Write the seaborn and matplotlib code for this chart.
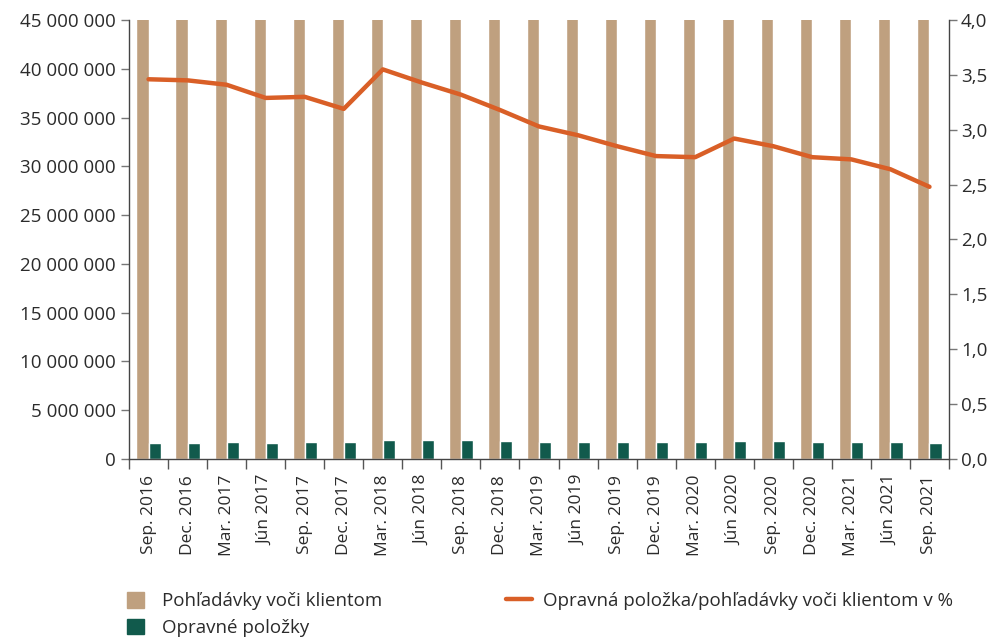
import matplotlib
matplotlib.use("Agg")
import matplotlib.pyplot as plt
import matplotlib.ticker as mticker
from matplotlib.patches import Patch
from matplotlib.lines import Line2D
import seaborn as sns
import pandas as pd
import numpy as np

quarters = ["Sep. 2016", "Dec. 2016", "Mar. 2017", "Jún 2017", "Sep. 2017", "Dec. 2017",
            "Mar. 2018", "Jún 2018", "Sep. 2018", "Dec. 2018", "Mar. 2019", "Jún 2019",
            "Sep. 2019", "Dec. 2019", "Mar. 2020", "Jún 2020", "Sep. 2020", "Dec. 2020",
            "Mar. 2021", "Jún 2021", "Sep. 2021"]
# Pohľadávky voči klientom (clipped above 45 mil. in the chart; estimated)
receivables = [47.4e6, 47.5e6, 50.1e6, 50.8e6, 52.7e6, 53.6e6, 54.9e6, 56.9e6, 57.5e6,
               58.2e6, 58.7e6, 60.3e6, 61.0e6, 62.0e6, 63.3e6, 64.4e6, 64.9e6, 64.7e6,
               65.2e6, 65.9e6, 67.3e6]
# Opravné položky
provisions = [1.64e6, 1.64e6, 1.71e6, 1.67e6, 1.74e6, 1.71e6, 1.95e6, 1.95e6, 1.91e6,
              1.85e6, 1.78e6, 1.78e6, 1.74e6, 1.71e6, 1.74e6, 1.88e6, 1.85e6, 1.78e6,
              1.78e6, 1.74e6, 1.67e6]
# Opravná položka / pohľadávky v %
ratio = [3.46, 3.45, 3.41, 3.29, 3.30, 3.19, 3.55, 3.43, 3.32, 3.18, 3.03, 2.95,
         2.85, 2.76, 2.75, 2.92, 2.85, 2.75, 2.73, 2.64, 2.48]

lab_rec = "Pohľadávky voči klientom"
lab_prov = "Opravné položky"
lab_ratio = "Opravná položka/pohľadávky voči klientom v %"

TAN = "#BFA07F"
GREEN = "#115A4C"
ORANGE = "#D95F27"
TXT = "#2b2b2b"
FS_Y = 13.5
FS_X = 12.5
FS_LEG = 13.5

sns.set_theme(style="white")
plt.rcParams["font.family"] = ["Open Sans", "DejaVu Sans"]

df = pd.DataFrame({
    "q": quarters * 2,
    "v": receivables + provisions,
    "s": [lab_rec] * len(quarters) + [lab_prov] * len(quarters),
})

fig = plt.figure(figsize=(9.96, 6.37), dpi=100)
ax = fig.add_axes([129 / 996, 1 - 459 / 637, (949 - 129) / 996, (459 - 20) / 637])
sns.barplot(data=df, x="q", y="v", hue="s", palette=[TAN, GREEN], width=0.62,
            ax=ax, legend=False, saturation=1)
ax.set_ylim(0, 45e6)
ax.set_xlim(-0.5, len(quarters) - 0.5)
ax.set_xlabel("")
ax.set_ylabel("")
ax.yaxis.set_major_locator(mticker.MultipleLocator(5e6))
ax.yaxis.set_major_formatter(mticker.FuncFormatter(lambda v, p: f"{int(v):,}".replace(",", " ")))

ax2 = ax.twinx()
sns.lineplot(x=np.arange(len(quarters)), y=ratio, ax=ax2, color=ORANGE, lw=3.2)
ax2.set_ylim(0, 4.0)
ax2.set_xlim(-0.5, len(quarters) - 0.5)
ax2.yaxis.set_major_locator(mticker.MultipleLocator(0.5))
ax2.yaxis.set_major_formatter(mticker.FuncFormatter(lambda v, p: f"{v:.1f}".replace(".", ",")))

for a in (ax, ax2):
    a.spines["top"].set_visible(False)
    for s in ("left", "right", "bottom"):
        a.spines[s].set_color("#444444")
        a.spines[s].set_linewidth(1.0)
ax.spines["right"].set_visible(False)
ax2.spines["left"].set_visible(False)
ax2.spines["bottom"].set_visible(False)

ax.tick_params(axis="y", which="major", direction="out", length=5.5, width=1,
               color="#777777", labelsize=FS_Y, labelcolor=TXT, pad=4, left=True)
ax2.tick_params(axis="y", which="major", direction="out", length=5.5, width=1,
                color="#777777", labelsize=FS_Y, labelcolor=TXT, pad=3, right=True)

ax.set_xticks(np.arange(len(quarters)))
ax.set_xticklabels(quarters, rotation=90, fontsize=FS_X, color=TXT)
ax.tick_params(axis="x", which="major", length=0, pad=11.5)
ax.set_xticks(np.arange(len(quarters) + 1) - 0.5, minor=True)
ax.tick_params(axis="x", which="minor", direction="out", length=7.5, width=1,
               color="#555555", bottom=True)
ax2.tick_params(axis="x", which="both", length=0)

h1 = [Patch(color=TAN, label=lab_rec), Patch(color=GREEN, label=lab_prov)]
h2 = [Line2D([0], [0], color=ORANGE, lw=3.2, label=lab_ratio)]
leg_kw = dict(frameon=False, fontsize=FS_LEG, handlelength=0.92, handleheight=0.9,
              handletextpad=0.95, labelspacing=0.45, borderaxespad=0, borderpad=0)
fig.legend(handles=h1, loc="upper left", bbox_to_anchor=(127 / 996, 1 - 592 / 637), **leg_kw)
leg_kw2 = dict(leg_kw)
leg_kw2["handlelength"] = 1.4
leg_kw2["handletextpad"] = 0.55
fig.legend(handles=h2, loc="upper left", bbox_to_anchor=(506 / 996, 1 - 592 / 637), **leg_kw2)
for lg in fig.legends:
    for t in lg.get_texts():
        t.set_color(TXT)

fig.savefig("out.png", dpi=100)
